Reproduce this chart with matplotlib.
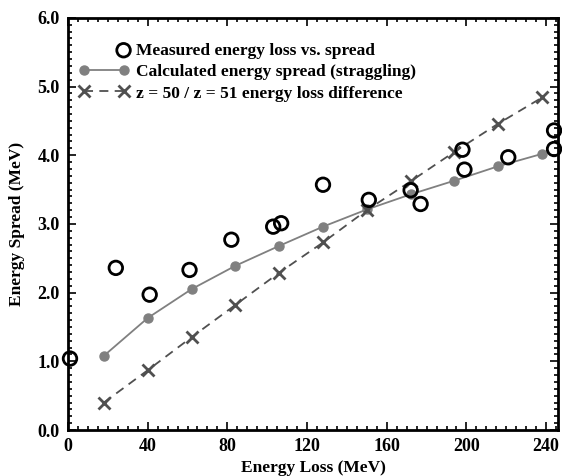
import matplotlib
matplotlib.use("Agg")
import matplotlib.pyplot as plt
from matplotlib.ticker import MultipleLocator
from matplotlib.legend_handler import HandlerPathCollection

plt.rcParams['font.family'] = ['Liberation Serif', 'DejaVu Serif']
plt.rcParams['font.weight'] = 'bold'

meas_x = [1, 24, 41, 61, 82, 103, 107, 128, 151, 172, 177, 198, 199, 221, 244, 244]
meas_y = [1.04, 2.36, 1.97, 2.33, 2.77, 2.96, 3.01, 3.57, 3.35, 3.49, 3.29, 4.08, 3.79, 3.97, 4.36, 4.09]

calc_x = [18, 40, 62, 84, 106, 128, 150, 172, 194, 216, 238]
calc_y = [1.08, 1.63, 2.05, 2.39, 2.68, 2.96, 3.21, 3.43, 3.63, 3.84, 4.02]

diff_x = [18, 40, 62, 84, 106, 128, 150, 172, 194, 216, 238]
diff_y = [0.40, 0.87, 1.35, 1.82, 2.29, 2.73, 3.20, 3.62, 4.05, 4.46, 4.84]

labels = ["Measured energy loss vs. spread",
          "Calculated energy spread (straggling)",
          "z = 50 / z = 51 energy loss difference"]


class RightMarkerHandler(HandlerPathCollection):
    def get_xdata(self, legend, xdescent, ydescent, width, height, fontsize):
        pad = 0.3 * fontsize
        xdata = [-xdescent, -xdescent + width]
        return xdata, [-xdescent + width - pad]


fig = plt.figure(figsize=(5.62, 4.76), dpi=100)
ax = fig.add_axes([0.121, 0.0966, 0.872, 0.866])

ax.plot(calc_x, calc_y, color='#808080', lw=1.3, marker='o', ms=6.5,
        mfc='#808080', mec='#808080', label=labels[1], zorder=2)
ax.plot(diff_x, diff_y, color='#505050', lw=1.3, ls=(0, (5, 3.5)), marker='x', ms=8,
        mew=2, mec='#505050', label=labels[2], zorder=2)
sc = ax.scatter(meas_x, meas_y, s=95, facecolors='none', edgecolors='black', linewidths=2,
                label=labels[0], zorder=3, clip_on=False)

ax.set_xlim(0, 246)
ax.set_ylim(0, 6)
ax.xaxis.set_major_locator(MultipleLocator(40))
ax.xaxis.set_minor_locator(MultipleLocator(5))
ax.yaxis.set_major_locator(MultipleLocator(1))
ax.yaxis.set_minor_locator(MultipleLocator(0.1))
ax.yaxis.set_major_formatter(plt.FormatStrFormatter('%.1f'))

ax.tick_params(which='both', direction='in', top=True, right=True, width=1.2)
ax.tick_params(which='major', length=6, labelsize=13, pad=6)
ax.tick_params(which='minor', length=3)
for lab in ax.get_xticklabels() + ax.get_yticklabels():
    lab.set_fontweight('bold')
for s in ax.spines.values():
    s.set_linewidth(2)

ax.set_xlabel("Energy Loss (MeV)", fontsize=12.5, fontweight='bold', labelpad=3)
ax.set_ylabel("Energy Spread (MeV)", fontsize=12.5, fontweight='bold', labelpad=9)

h, l = ax.get_legend_handles_labels()
order = [2, 0, 1]
leg = ax.legend([h[i] for i in order], [l[i] for i in order], loc='upper left',
                bbox_to_anchor=(0.0, 0.965), frameon=False, numpoints=2, scatterpoints=1,
                handlelength=2.9, handletextpad=0.4, labelspacing=0.3,
                prop={'size': 12.5, 'weight': 'bold'}, borderaxespad=0.2,
                handler_map={sc: RightMarkerHandler()})

fig.savefig("out.png", dpi=100)
